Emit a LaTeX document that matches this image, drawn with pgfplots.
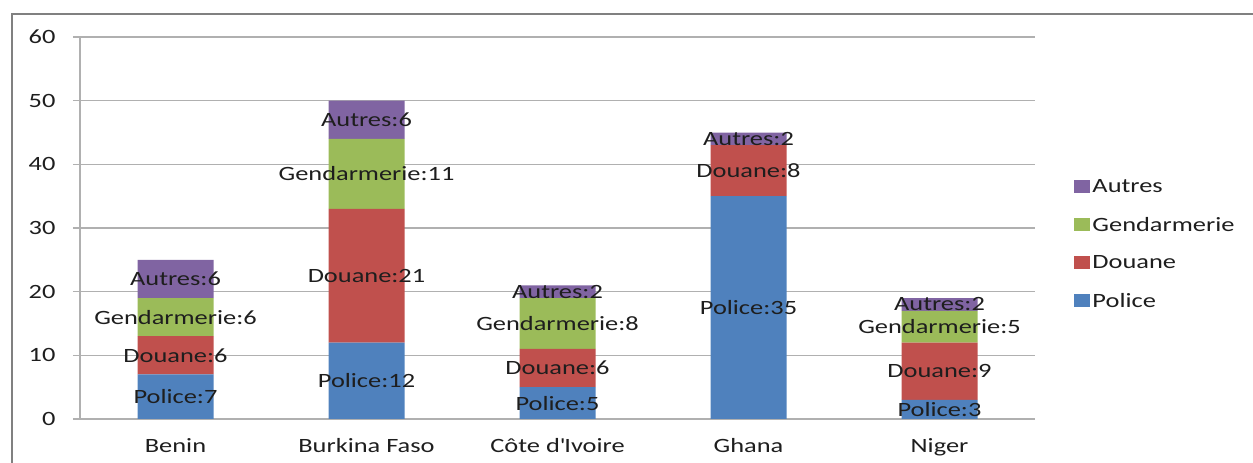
\documentclass[border=0pt]{standalone}
\usepackage{pgfplots}
\usepackage{pgfplotstable}
\pgfplotsset{compat=1.18}
\usepackage{fontspec}
\setmainfont{Carlito}[FakeStretch=1.3]
\definecolor{cpol}{HTML}{4F81BD}
\definecolor{cdou}{HTML}{C0504D}
\definecolor{cgen}{HTML}{9BBB59}
\definecolor{caut}{HTML}{8064A2}
\definecolor{cgrid}{HTML}{B0B0B0}
\definecolor{ctxt}{HTML}{1E1E1E}

% values: Police, Douane, Gendarmerie, Autres
\pgfplotstableread{
x police douane gendarmerie autres
0 7  6  6  6
1 12 21 11 6
2 5  6  8  2
3 35 8  0  2
4 3  9  5  2
}\data

\begin{document}
\begin{tikzpicture}[x=1pt,y=1pt]
\path[use as bounding box] (0,0) rectangle (1253,463);
\draw[color=gray, line width=2pt] (12,0) -- (12,449) -- (1253,449);
\begin{axis}[
  at={(175.5pt,44pt)}, anchor=origin,
  scale only axis, width=955pt, height=382pt,
  xmin=-0.5, xmax=4.5, ymin=0, ymax=60,
  ybar stacked, bar width=76pt,
  axis x line*=bottom, axis y line*=left,
  axis line style={cgrid, line width=1.3pt},
  every tick/.style={cgrid, line width=1.3pt},
  tick align=outside, major tick length=7pt,
  ytick={0,10,...,60},
  ymajorgrids, grid style={cgrid, line width=1.3pt},
  xtick={0,1,2,3,4},
  xticklabels={Benin, Burkina Faso, Côte d\textquotesingle Ivoire, Ghana, Niger},
  xtick style={draw=none},
  extra x ticks={-0.5,0.5,1.5,2.5,3.5,4.5},
  extra x tick labels={},
  extra x tick style={grid=none, tick style={cgrid, line width=1.3pt}},
  ticklabel style={font=\fontsize{20.3}{24}\selectfont, text=ctxt},
  /pgf/number format/assume math mode=true,
  yticklabel style={xshift=-14pt},
  xticklabel style={yshift=-9pt},
  visualization depends on={rawy \as \val},
  nodes near coords style={font=\fontsize{20.3}{24}\selectfont, text=ctxt, anchor=center},
  legend style={at={(rel axis cs:1.038,0.458)}, anchor=west, draw=none, fill=none,
    font=\fontsize{20.3}{24}\selectfont, text=ctxt, row sep=19pt,
    /tikz/every even column/.append style={column sep=6pt}},
  legend cell align=left,
  reverse legend,
  legend image code/.code={\fill[#1] (0pt,-6.5pt) rectangle (16pt,6.5pt);},
  clip=false,
]
\addplot[fill=cpol, draw=none, nodes near coords={Police:\pgfmathprintnumber{\val}}] table[x=x,y=police]{\data};
\addlegendentry{Police}
\addplot[fill=cdou, draw=none, nodes near coords={Douane:\pgfmathprintnumber{\val}}] table[x=x,y=douane]{\data};
\addlegendentry{Douane}
\addplot[fill=cgen, draw=none, nodes near coords={\ifdim\val pt=0pt \else Gendarmerie:\pgfmathprintnumber{\val}\fi}] table[x=x,y=gendarmerie]{\data};
\addlegendentry{Gendarmerie}
\addplot[fill=caut, draw=none, nodes near coords={Autres:\pgfmathprintnumber{\val}}] table[x=x,y=autres]{\data};
\addlegendentry{Autres}
\end{axis}
\end{tikzpicture}
\end{document}
